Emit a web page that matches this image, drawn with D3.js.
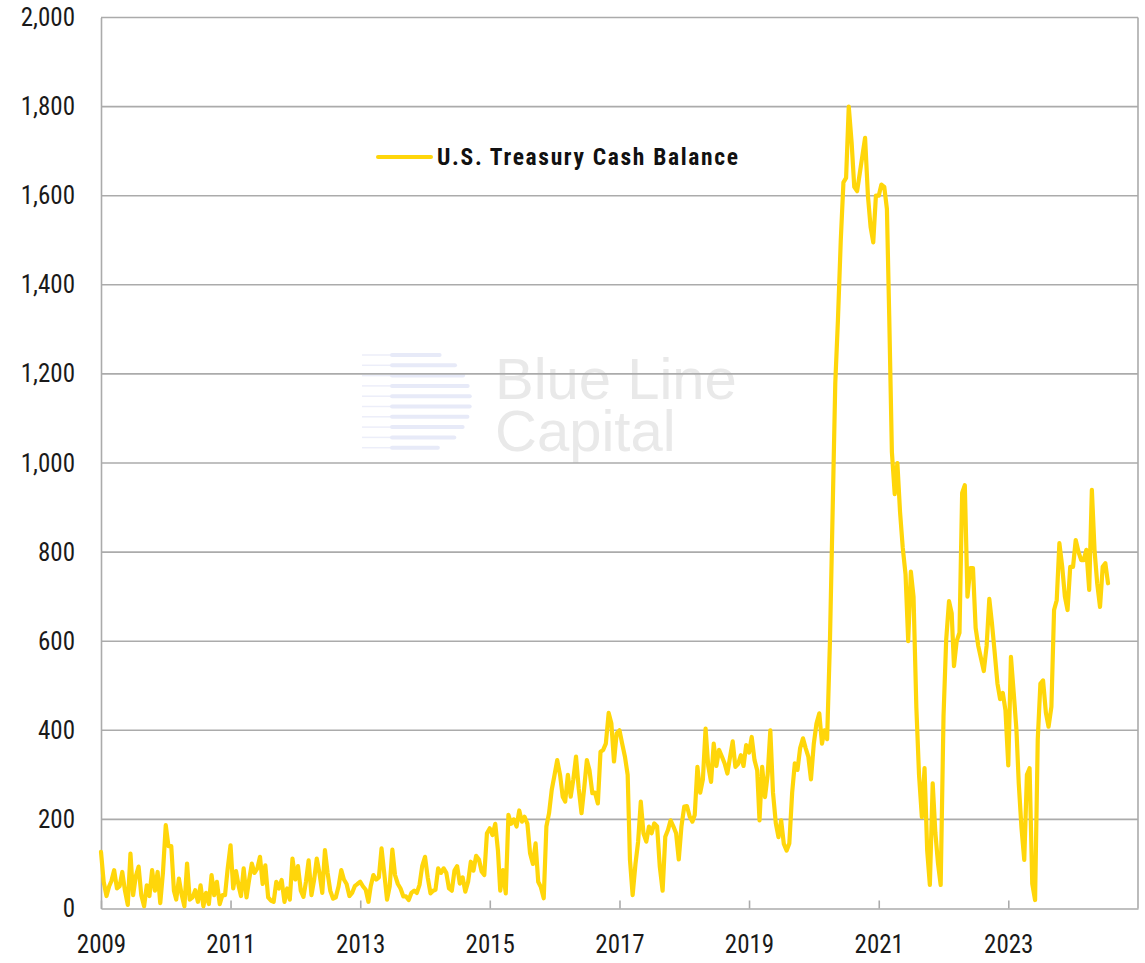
<!DOCTYPE html>
<html>
<head>
<meta charset="utf-8">
<script src="https://cdn.jsdelivr.net/npm/d3@7"></script>
<style>
  body { margin: 0; background: #fff; }
  svg { display: block; }
  .narrow { font-family: "Liberation Sans Narrow", "Arial Narrow", "Roboto Condensed", sans-serif; }
</style>
</head>
<body>
<svg id="chart" width="1145" height="963"></svg>
<script>
// U.S. Treasury cash balance ($bn), two readings per month (1st and 16th)
const tga2009 = [127,60,28,50,62,86,45,50,82,40,8,123,30,72,94,30,5,52,28,86,40,82,12,80];
const tga2010 = [187,140,140,40,20,67,30,5,101,20,25,41,15,52,5,35,10,75,30,60,10,30,30,90];
const tga2011 = [142,45,84,50,28,90,25,65,101,80,90,116,55,97,25,18,15,60,45,64,15,45,20,112];
const tga2012 = [65,95,40,26,60,108,30,64,112,80,35,131,80,40,22,25,50,86,65,55,28,35,50,55];
const tga2013 = [60,50,42,15,50,75,65,70,135,80,20,50,132,75,55,45,27,27,19,35,40,35,53,95];
const tga2014 = [116,70,34,40,42,90,80,90,80,45,40,85,95,56,70,38,60,105,85,118,110,83,75,169];
const tga2015 = [180,165,190,130,40,86,34,210,190,200,184,220,195,206,190,124,100,146,60,48,23,184,214,266];
const tga2016 = [300,333,300,251,240,300,251,290,341,270,214,270,333,310,259,260,236,352,356,370,439,416,330,393];
const tga2017 = [400,370,340,300,109,30,100,150,240,169,150,184,169,191,184,94,40,161,176,198,184,169,110,184];
const tga2018 = [229,230,206,195,210,318,260,290,404,320,284,370,320,356,341,326,303,340,375,318,325,344,320,367];
const tga2019 = [350,385,333,310,198,318,250,300,400,260,191,160,198,145,130,146,260,326,311,360,382,360,341,290];
const tga2020 = [370,415,438,370,400,380,600,889,1179,1321,1500,1630,1640,1800,1720,1620,1610,1650,1690,1730,1600,1530,1495,1600];
const tga2021 = [1600,1625,1620,1570,1330,1025,930,1000,890,811,750,600,756,700,450,300,205,315,130,53,281,170,101,53];
const tga2022 = [431,603,690,663,544,600,619,933,950,700,764,764,630,589,560,533,590,695,640,576,505,470,484,445];
const tga2023 = [321,565,482,401,281,183,109,300,315,56,19,379,505,512,439,408,453,670,692,820,767,700,670,767];
const tga2024 = [767,827,800,782,782,805,715,940,805,730,677,767,775,730];

const years = [2009,2010,2011,2012,2013,2014,2015,2016,2017,2018,2019,2020,2021,2022,2023,2024];
const series = [tga2009,tga2010,tga2011,tga2012,tga2013,tga2014,tga2015,tga2016,tga2017,tga2018,tga2019,tga2020,tga2021,tga2022,tga2023,tga2024];

const yTicks = [0,200,400,600,800,1000,1200,1400,1600,1800,2000];
const xTickYears = [2009,2011,2013,2015,2017,2019,2021,2023];
const legendLabel = "U.S. Treasury Cash Balance";

const data = [];
years.forEach((yr, k) => {
  series[k].forEach((v, i) => {
    data.push({ date: new Date(yr, Math.floor(i / 2), i % 2 ? 16 : 1), value: v });
  });
});

const svg = d3.select("#chart");
const margin = { top: 17.5, right: 7, bottom: 54.5, left: 101 };
const W = 1145, H = 963;
const x0 = margin.left, x1 = W - margin.right;
const y0 = H - margin.bottom, y1 = margin.top;

const x = d3.scaleTime()
  .domain([new Date(2009, 0, 1), new Date(2025, 0, 1)])
  .range([x0, x1]);
const y = d3.scaleLinear().domain([0, 2000]).range([y0, y1]);

const gridColor = "#ababab";

// watermark
const wm = svg.append("g").attr("class", "watermark");
const logoLines = d3.range(10);
const logoR = 50, logoCx = 420, logoCy = 401;
logoLines.forEach(i => {
  const ly = logoCy - 46 + i * 10.3;
  const dy = ly - logoCy;
  const half = Math.sqrt(Math.max(0, logoR * logoR - dy * dy));
  wm.append("line")
    .attr("x1", 362).attr("x2", 392)
    .attr("y1", ly).attr("y2", ly)
    .attr("stroke", "#eceef9").attr("stroke-width", 1.5);
  wm.append("line")
    .attr("x1", Math.min(392, logoCx - half + 25)).attr("x2", logoCx + half)
    .attr("y1", ly).attr("y2", ly)
    .attr("stroke", "#e7eaf8").attr("stroke-width", 4)
    .attr("stroke-linecap", "round");
});
const wmText = wm.append("text")
  .attr("font-family", "Liberation Sans, Arial, sans-serif")
  .attr("font-size", 58)
  .attr("fill", "#e9e9e9");
wmText.append("tspan").attr("x", 495).attr("y", 399).text("Blue Line");
wmText.append("tspan").attr("x", 495).attr("y", 451).text("Capital");

// gridlines
svg.append("g")
  .selectAll("line")
  .data(yTicks.filter(d => d > 0))
  .join("line")
  .attr("x1", x0).attr("x2", x1)
  .attr("y1", d => y(d)).attr("y2", d => y(d))
  .attr("stroke", gridColor)
  .attr("stroke-width", 1.6);

// y axis
const yAxis = svg.append("g")
  .attr("class", "narrow")
  .attr("transform", `translate(${x0},0)`)
  .call(d3.axisLeft(y).tickValues(yTicks).tickSize(0).tickPadding(26).tickFormat(d3.format(",")));
yAxis.select(".domain").attr("stroke", gridColor).attr("stroke-width", 1.6);
yAxis.selectAll("text").attr("font-size", 25).attr("fill", "#1a1a1a").attr("font-family", null);

// right border
svg.append("line")
  .attr("x1", x1).attr("x2", x1)
  .attr("y1", y1).attr("y2", y0)
  .attr("stroke", gridColor).attr("stroke-width", 1.6);

// x axis
const xAxis = svg.append("g")
  .attr("class", "narrow")
  .attr("transform", `translate(0,${y0})`)
  .call(d3.axisBottom(x)
    .tickValues(xTickYears.map(yr => new Date(yr, 0, 1)))
    .tickSize(-8).tickSizeOuter(0).tickPadding(27)
    .tickFormat(d3.timeFormat("%Y")));
xAxis.select(".domain").attr("stroke", gridColor).attr("stroke-width", 1.6);
xAxis.selectAll(".tick line").attr("stroke", gridColor).attr("stroke-width", 1.6);
xAxis.selectAll("text").attr("font-size", 25).attr("fill", "#1a1a1a").attr("font-family", null);

// series line
const line = d3.line()
  .x(d => x(d.date))
  .y(d => y(d.value));

svg.append("path")
  .datum(data)
  .attr("fill", "none")
  .attr("stroke", "#ffd60a")
  .attr("stroke-width", 4.2)
  .attr("stroke-linejoin", "round")
  .attr("stroke-linecap", "round")
  .attr("d", line);

// legend
const lg = svg.append("g");
lg.append("line")
  .attr("x1", 378).attr("x2", 431)
  .attr("y1", 157).attr("y2", 157)
  .attr("stroke", "#ffd60a").attr("stroke-width", 4)
  .attr("stroke-linecap", "round");
lg.append("text")
  .attr("class", "narrow")
  .attr("x", 437).attr("y", 165)
  .attr("font-size", 23.5)
  .attr("font-weight", "bold")
  .attr("fill", "#111")
  .attr("textLength", 301)
  .attr("lengthAdjust", "spacing")
  .text(legendLabel);
</script>
</body>
</html>
